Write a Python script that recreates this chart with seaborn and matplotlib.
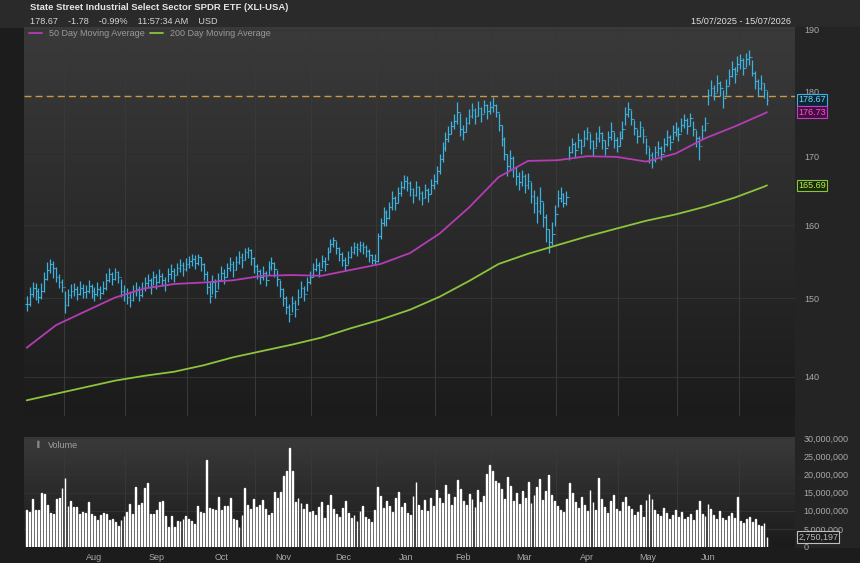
import numpy as np
import pandas as pd
import matplotlib
matplotlib.use("Agg")
import matplotlib.pyplot as plt
import seaborn as sns
from matplotlib.colors import LinearSegmentedColormap
from matplotlib.ticker import NullLocator, FuncFormatter

# trading calendar 15/07/2025 - 15/07/2026 (US market holidays removed)
holidays = ["2025-09-01", "2025-11-27", "2025-12-25", "2026-01-01", "2026-01-19",
            "2026-02-16", "2026-04-03", "2026-05-25", "2026-06-19", "2026-07-03"]
dates = pd.bdate_range("2025-07-15", "2026-07-15", freq="C", holidays=holidays)

# daily closes (one row per month)
closes = [
    149.2, 150.6, 151.4, 150.9, 150.2, 151.0, 152.6, 153.8, 154.6, 154.0, 152.8, 152.2, 151.5,
    149.1, 150.4, 150.9, 151.2, 150.6, 151.4, 150.8, 151.0, 151.6, 150.9, 150.5, 151.2, 150.7, 151.3, 152.4, 153.2, 152.6, 153.5, 152.9, 151.0, 150.6,
    150.2, 149.8, 150.9, 151.2, 150.4, 151.3, 152.0, 152.4, 151.6, 152.8, 152.1, 153.0, 152.5, 151.8, 153.2, 153.6, 153.1, 154.0, 154.4, 153.9, 154.6,
    155.0, 155.3, 154.8, 155.5, 154.6, 153.2, 151.5, 150.3, 152.2, 151.0, 152.5, 153.4, 152.9, 154.0, 154.6, 153.8, 154.9, 155.6, 155.1, 156.2, 156.5, 155.4, 154.3,
    153.6, 152.8, 153.4, 152.5, 154.2, 154.8, 153.9, 152.6, 151.2, 150.1, 148.9, 148.0, 149.4, 148.6, 150.2, 151.3, 150.6, 152.1, 152.8,
    153.9, 154.5, 153.8, 155.0, 154.6, 156.2, 157.4, 157.9, 156.8, 156.0, 155.2, 154.5, 155.6, 156.3, 157.0, 156.6, 157.2, 156.9, 156.4, 155.8, 155.2, 155.0,
    158.5, 160.3, 161.8, 161.0, 162.5, 163.8, 163.2, 164.6, 165.4, 166.3, 166.0, 165.2, 164.3, 165.5, 164.6, 163.9, 165.0, 164.4, 165.8, 166.4,
    167.8, 169.6, 171.3, 172.6, 173.4, 174.6, 175.3, 176.8, 174.2, 173.6, 175.0, 176.2, 177.0, 176.1, 177.4, 176.5, 177.8, 176.9, 177.6,
    177.9, 176.8, 174.8, 172.6, 170.4, 168.5, 169.8, 168.2, 167.0, 166.2, 167.1, 165.8, 166.4, 164.2, 163.1, 162.0, 163.4, 161.2, 159.4, 157.6, 158.8, 161.5,
    163.8, 164.5, 163.2, 164.0, 170.6, 171.8, 170.9, 172.4, 171.5, 172.8, 173.6, 172.3, 171.2, 172.7, 173.5, 172.4, 171.3, 172.9, 173.8, 172.5, 171.6,
    172.8, 174.2, 176.5, 177.2, 175.6, 174.3, 173.1, 174.4, 173.0, 171.5, 170.2, 169.4, 170.6, 171.2, 170.4, 171.8, 172.9, 172.1, 173.6, 174.2,
    173.4, 174.8, 175.5, 174.6, 175.8, 174.2, 172.8, 171.6, 173.9, 175.0, 179.4, 180.6, 179.8, 181.3, 180.5, 178.9, 180.8, 182.4, 183.6, 182.7, 184.4,
    185.0, 183.8, 185.2, 185.6, 183.0, 181.6, 180.5, 181.4, 180.2, 178.67,
]
highs = [
    150.3, 151.5, 152.2, 152.0, 151.3, 152.0, 153.5, 154.9, 155.3, 155.0, 154.2, 153.3, 152.6,
    150.9, 151.2, 151.9, 152.0, 151.6, 152.3, 151.9, 151.8, 152.4, 151.9, 151.5, 152.1, 151.6, 152.3, 153.4, 154.0, 153.5, 154.0, 153.7, 152.6, 151.7,
    151.3, 150.9, 151.8, 152.1, 151.6, 152.2, 152.9, 153.3, 152.7, 153.6, 153.2, 153.9, 153.4, 152.9, 154.0, 154.6, 154.1, 154.8, 155.3, 154.9, 155.4,
    155.7, 155.9, 155.8, 156.0, 155.6, 154.8, 153.6, 152.3, 153.1, 152.6, 153.4, 154.3, 153.9, 154.8, 155.5, 155.0, 155.7, 156.4, 156.1, 156.8, 157.0, 156.6, 155.5,
    154.6, 153.9, 154.3, 153.6, 155.0, 155.5, 154.9, 153.8, 152.5, 151.4, 150.3, 149.3, 150.3, 149.8, 151.2, 152.3, 151.6, 152.9, 153.7,
    154.8, 155.4, 154.9, 155.8, 155.6, 157.0, 158.1, 158.3, 157.8, 156.9, 156.2, 155.5, 156.4, 157.1, 157.6, 157.5, 157.8, 157.6, 157.2, 156.6, 156.0, 155.9,
    158.9, 161.0, 162.6, 162.1, 163.3, 164.8, 164.2, 165.4, 166.3, 167.2, 167.0, 166.3, 165.3, 166.3, 165.6, 164.9, 165.9, 165.3, 166.6, 167.3,
    168.6, 170.4, 172.1, 173.6, 174.6, 175.4, 176.4, 178.3, 176.6, 174.8, 176.0, 177.2, 178.2, 177.3, 178.4, 177.6, 178.7, 178.0, 178.5,
    179.1, 178.0, 176.6, 174.8, 172.9, 170.4, 171.0, 170.1, 168.5, 167.6, 168.0, 167.3, 167.5, 166.2, 165.0, 164.1, 165.4, 163.3, 161.6, 159.4, 160.4, 162.8,
    165.0, 165.4, 164.6, 164.8, 171.6, 172.8, 172.2, 173.5, 172.6, 173.9, 174.4, 173.5, 172.4, 173.6, 174.6, 173.6, 172.5, 173.8, 175.2, 173.7, 172.9,
    173.8, 175.3, 177.6, 178.3, 177.0, 175.5, 174.2, 175.3, 174.3, 172.8, 171.4, 170.6, 171.6, 172.3, 171.5, 172.8, 174.0, 173.2, 174.7, 175.2,
    174.5, 175.8, 176.5, 175.8, 176.6, 175.4, 174.0, 173.1, 174.8, 175.9, 180.4, 181.8, 181.0, 182.6, 181.7, 180.2, 181.9, 183.6, 184.8, 183.9, 185.7,
    186.1, 185.3, 186.2, 186.7, 185.1, 183.2, 181.9, 182.6, 181.4, 180.0,
]
lows = [
    148.3, 149.0, 150.2, 149.8, 149.4, 149.9, 150.8, 152.4, 153.4, 152.7, 152.1, 151.4, 150.8,
    148.1, 149.0, 150.0, 150.3, 149.8, 150.4, 150.0, 150.1, 150.7, 150.0, 149.6, 150.3, 149.9, 150.5, 151.1, 152.2, 151.7, 152.5, 152.0, 150.2, 149.6,
    149.3, 148.8, 149.7, 150.3, 149.6, 150.2, 151.0, 151.5, 150.6, 151.7, 151.2, 152.0, 151.6, 150.9, 152.2, 152.6, 152.2, 153.1, 153.5, 153.0, 153.6,
    154.0, 154.3, 153.9, 154.5, 153.7, 152.5, 150.6, 149.4, 150.5, 150.0, 151.2, 152.3, 151.9, 152.9, 153.6, 152.9, 153.8, 154.6, 154.1, 155.1, 155.4, 154.5, 153.4,
    152.6, 151.9, 152.4, 151.6, 153.1, 153.8, 152.9, 151.6, 150.2, 149.0, 147.9, 146.9, 148.2, 147.6, 149.1, 150.2, 149.7, 151.0, 151.9,
    152.9, 153.6, 152.9, 154.0, 153.7, 155.1, 156.3, 156.9, 155.9, 155.0, 154.3, 153.6, 154.6, 155.4, 156.0, 155.7, 156.3, 156.0, 155.5, 154.9, 154.6, 154.4,
    154.9, 158.0, 159.9, 159.9, 160.9, 162.2, 162.1, 163.2, 164.1, 165.2, 164.9, 164.1, 163.2, 164.2, 163.5, 162.9, 163.8, 163.3, 164.5, 165.2,
    165.9, 167.4, 169.2, 170.8, 172.2, 173.3, 174.1, 174.9, 173.1, 172.4, 173.6, 174.9, 175.8, 174.9, 176.1, 175.2, 176.6, 175.7, 176.4,
    176.8, 175.9, 173.8, 171.6, 169.4, 167.0, 168.0, 166.9, 165.8, 165.0, 165.6, 164.6, 165.1, 163.2, 161.7, 160.3, 161.6, 159.7, 157.6, 156.1, 157.2, 159.8,
    162.5, 163.3, 162.6, 162.9, 169.4, 170.5, 169.8, 171.2, 170.3, 171.5, 172.4, 171.1, 170.1, 171.4, 172.2, 171.1, 170.2, 171.6, 172.5, 171.2, 170.6,
    171.5, 172.6, 174.8, 175.9, 174.7, 173.2, 172.0, 172.9, 172.0, 170.4, 169.0, 168.2, 169.2, 170.0, 169.4, 170.6, 171.6, 170.9, 172.4, 173.1,
    172.3, 173.6, 174.3, 173.4, 174.6, 173.0, 171.4, 169.4, 172.6, 173.8, 177.9, 179.3, 178.6, 179.9, 179.2, 177.3, 179.5, 181.0, 182.3, 181.4, 183.1,
    183.6, 182.6, 183.9, 184.3, 182.4, 180.4, 179.3, 180.2, 179.0, 177.9,
]
# daily volume, millions of shares
volume_m = [
    10.1, 9.7, 13.2, 10.1, 10.1, 14.9, 14.6, 11.5, 9.4, 9.2, 13.2, 13.6, 16.3,
    18.9, 11.2, 12.6, 10.9, 10.9, 9.2, 9.7, 9.4, 12.4, 9.2, 8.5, 7.4, 8.8, 9.4, 9.2, 7.4, 7.8, 6.9, 5.7, 7.4, 8.5,
    9.7, 11.8, 9.2, 16.6, 11.5, 12.0, 16.2, 17.5, 9.2, 9.2, 10.1, 12.5, 12.6, 8.5, 5.5, 8.5, 5.5, 7.1, 7.1, 7.8, 8.5,
    7.8, 7.2, 6.4, 11.2, 9.7, 9.5, 24.0, 10.8, 10.6, 10.1, 13.8, 10.1, 11.2, 11.2, 13.4, 7.8, 7.5, 5.5, 8.8, 16.2, 11.5, 10.6, 13.1,
    11.1, 11.5, 13.0, 10.6, 8.8, 9.4, 15.2, 13.4, 15.2, 19.6, 20.8, 27.3, 20.8, 12.5, 13.4, 12.0, 10.5, 11.8, 9.6,
    9.8, 8.7, 10.9, 12.3, 8.1, 11.6, 14.2, 10.4, 9.1, 8.4, 10.8, 12.7, 9.5, 7.9, 8.8, 7.2, 9.9, 11.4, 8.3, 7.6, 6.9, 10.2,
    16.4, 14.1, 10.8, 12.6, 11.3, 9.7, 13.5, 15.2, 10.9, 12.1, 9.4, 8.8, 14.0, 17.8, 11.7, 10.3, 12.9, 9.8, 13.6, 11.2,
    15.8, 13.4, 12.2, 17.1, 14.5, 11.6, 13.9, 18.4, 16.0, 12.8, 11.5, 14.7, 13.3, 10.9, 15.6, 12.4, 14.1, 20.2, 22.6,
    21.0, 18.3, 17.6, 15.9, 13.2, 19.4, 16.8, 12.7, 14.9, 11.8, 15.3, 13.6, 17.9, 12.1, 14.4, 16.6, 18.7, 13.0, 15.5, 19.8, 14.2, 12.6,
    11.4, 10.2, 9.6, 13.1, 17.5, 14.8, 12.3, 10.7, 13.9, 11.5, 9.8, 15.6, 12.4, 10.1, 18.9, 13.2, 11.0, 9.5, 12.8, 14.3, 10.6,
    9.9, 12.5, 13.8, 11.2, 10.4, 8.9, 9.7, 11.6, 8.4, 12.9, 14.5, 13.1, 10.2, 9.0, 8.6, 10.8, 9.3, 7.8, 8.9, 10.1,
    8.4, 9.6, 7.7, 8.2, 9.1, 7.4, 10.3, 12.6, 9.2, 8.5, 11.8, 10.4, 8.9, 7.6, 9.8, 8.1, 7.3, 8.6, 9.4, 7.9, 13.7,
    7.2, 6.5, 7.8, 8.4, 6.9, 7.6, 6.1, 5.8, 6.6, 2.750197,
]

# moving averages read every 10 sessions
ma_idx = [0, 10, 20, 30, 40, 50, 60, 70, 80, 90, 100, 110, 120, 130, 140, 150, 160, 170, 180,
          190, 200, 210, 220, 230, 240, 250, 251]
ma50 = [143.6, 146.5, 148.3, 150.1, 151.3, 151.9, 152.1, 152.4, 153.0, 153.1, 153.0, 153.8, 154.6,
        156.1, 158.8, 162.5, 166.9, 169.3, 169.4, 170.0, 169.9, 169.2, 170.4, 172.7, 174.5, 176.5, 176.73]
ma200 = [137.1, 137.9, 138.7, 139.5, 140.1, 140.6, 141.4, 142.4, 143.2, 144.0, 144.9, 146.1, 147.2,
         148.5, 150.2, 152.3, 154.6, 156.0, 157.2, 158.4, 159.5, 160.6, 161.5, 162.6, 163.9, 165.5, 165.69]
ref_level = 179.2
price_ticks = [140, 150, 160, 170, 180, 190]
volume_ticks = [0, 5e6, 10e6, 15e6, 20e6, 25e6, 30e6]

BG = "#1c1c1c"
BAR = "#3cb2de"
MAG = "#b43cb4"
GRN = "#8cc43c"
TXT = "#a8a8a8"

sns.set_theme(style="dark")
plt.rcParams["font.family"] = ["Liberation Sans", "DejaVu Sans"]

x = np.arange(len(closes))
closes = np.array(closes)
opens = np.r_[closes[0], closes[:-1]]
volume = np.array(volume_m) * 1e6

fig = plt.figure(figsize=(8.6, 5.63), dpi=100, facecolor=BG)
ax = fig.add_axes([24 / 860, 1 - 416 / 563, 771 / 860, 389 / 563])
axv = fig.add_axes([24 / 860, 1 - 547 / 563, 771 / 860, 110 / 563], sharex=ax)

# header band and right label strip (kept behind the axes)
fig.patches.append(plt.Rectangle((0, 1 - 27 / 563), 1, 27 / 563, transform=fig.transFigure,
                                 color="#2a2a2a", zorder=-10))
fig.patches.append(plt.Rectangle((795 / 860, 1 - 547 / 563), 65 / 860, 520 / 563,
                                 transform=fig.transFigure, color="#242424", zorder=-10))

grad = LinearSegmentedColormap.from_list("panel", ["#1b1b1b", "#3a3a3a"])
for a in (ax, axv):
    a.set_facecolor(BG)
    a.imshow(np.linspace(0, 1, 256).reshape(-1, 1)[::-1], extent=[0, 1, 0, 1],
             transform=a.transAxes, aspect="auto", cmap=grad, zorder=0)
    for s in a.spines.values():
        s.set_visible(False)

# OHLC bars
ax.vlines(x, lows, highs, color=BAR, lw=0.9, zorder=3)
ax.hlines(opens, x - 0.45, x, color=BAR, lw=0.8, zorder=3)
ax.hlines(closes, x, x + 0.45, color=BAR, lw=0.8, zorder=3)

sns.lineplot(x=ma_idx, y=ma50, ax=ax, color=MAG, lw=1.3, label="50 Day Moving Average", zorder=4)
sns.lineplot(x=ma_idx, y=ma200, ax=ax, color=GRN, lw=1.3, label="200 Day Moving Average", zorder=4)
ax.axhline(ref_level, color="#c89a44", lw=1.0, ls=(0, (5, 3)), zorder=2)

ax.set_yscale("log")
ax.set_ylim(135.22, 190.5)
ax.set_yticks(price_ticks)
ax.yaxis.set_minor_locator(NullLocator())
ax.yaxis.set_major_formatter(FuncFormatter(lambda v, p: f"{v:.0f}"))
ax.yaxis.tick_right()
ax.tick_params(axis="y", length=0, pad=7, labelsize=6.5, labelcolor=TXT)
ax.tick_params(axis="x", length=0, labelbottom=False)

leg = ax.legend(loc="upper left", bbox_to_anchor=(0.002, 1.005), ncol=2, frameon=False,
                fontsize=6.5, handlelength=1.4, handletextpad=0.8, columnspacing=0.6,
                borderaxespad=0.0)
for t in leg.get_texts():
    t.set_color("#9a9a9a")

# month grid and labels
month_start = np.flatnonzero(np.r_[True, dates.month[1:] != dates.month[:-1]])
month_end = np.r_[month_start[1:], len(dates)]
bounds = month_start[1:] - 0.5
centers = [(s + e - 1) / 2 for s, e in zip(month_start[1:-1], month_end[1:-1])]
names = [dates[s].strftime("%b") for s in month_start[1:-1]]
for a in (ax, axv):
    a.set_xticks(bounds, minor=True)
    a.grid(which="minor", axis="x", color="#383838", lw=0.8)
    a.grid(which="major", axis="y", color="#333333", lw=0.7)
    a.grid(which="major", axis="x", visible=False)
axv.set_xticks(centers)
axv.set_xticklabels(names)
axv.tick_params(axis="x", which="both", length=0, pad=4, labelsize=6.5, labelcolor=TXT)
ax.set_xlim(-0.9, 260.5)

# volume panel
axv.bar(x, volume, width=0.3, color="#a8a8a8", zorder=3)
axv.set_ylim(0, 30.3e6)
axv.set_yticks(volume_ticks)
axv.yaxis.set_major_formatter(FuncFormatter(lambda v, p: f"{v:,.0f}"))
axv.yaxis.tick_right()
axv.tick_params(axis="y", length=0, pad=6, labelsize=6.5, labelcolor=TXT)
axv.text(0.014, 0.965, "\u2590", transform=axv.transAxes, color="#8a8a8a", fontsize=4.5, va="top")
axv.text(0.031, 0.965, "Volume", transform=axv.transAxes, color="#a0a0a0", fontsize=6.5, va="top")

# last value boxes
def tag(a, val, label, fc, ec, tc):
    a.annotate(label, xy=(1.004, val), xycoords=("axes fraction", "data"), va="center", ha="left",
               fontsize=6.5, color=tc, zorder=10, annotation_clip=False,
               bbox=dict(boxstyle="square,pad=0.15", fc=fc, ec=ec, lw=0.8))

tag(ax, closes[-1], f"{closes[-1]:.2f}", "#0c2636", BAR, "#7ad2f2")
tag(ax, ma50[-1], f"{ma50[-1]:.2f}", "#4a0c48", "#c040c0", "#f060b8")
tag(ax, ma200[-1], f"{ma200[-1]:.2f}", "#1a2a08", GRN, "#b4f05a")
tag(axv, volume[-1], f"{volume[-1]:,.0f}", "#1c1c1c", "#c0c0c0", "#bcbcbc")

# header
fig.text(30 / 860, 1 - 7.5 / 563, "State Street Industrial Select Sector SPDR ETF (XLI-USA)",
         color="#e4e4e4", fontsize=6.8, fontweight="bold", va="center")
fig.text(30 / 860, 1 - 21.5 / 563, "178.67    -1.78    -0.99%    11:57:34 AM    USD",
         color="#d4d4d4", fontsize=6.6, va="center")
fig.text(791 / 860, 1 - 21.5 / 563, "15/07/2025 - 15/07/2026", color="#e0e0e0",
         fontsize=6.6, va="center", ha="right")

fig.savefig("out.png", dpi=100, facecolor=BG)
